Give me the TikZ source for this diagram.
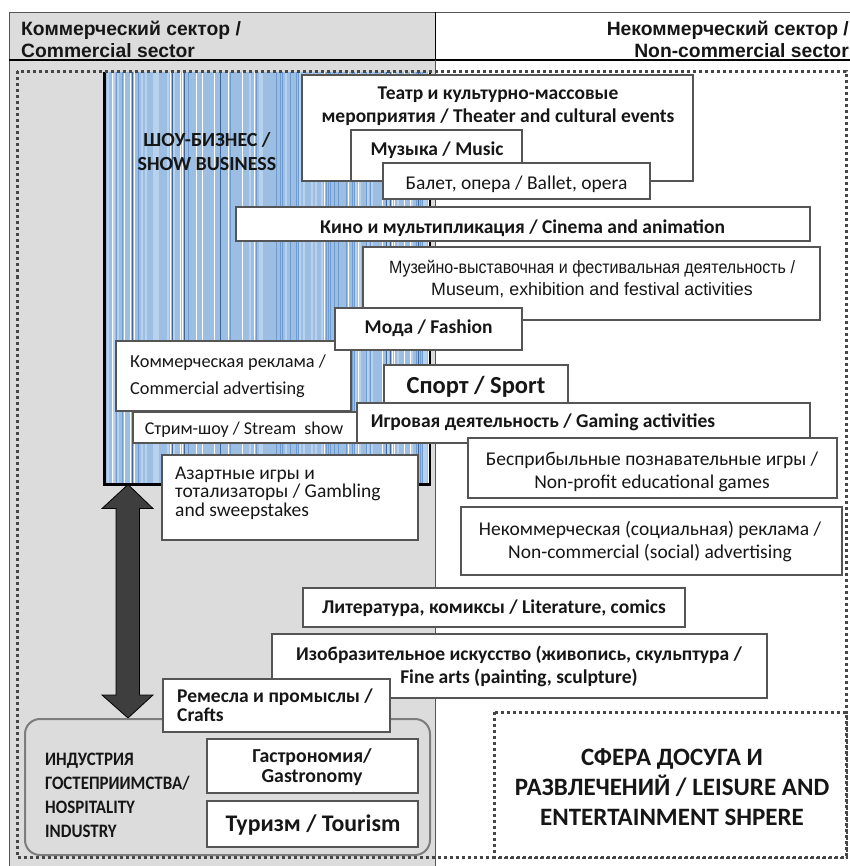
\documentclass[tikz,border=0pt]{standalone}
\usepackage{fontspec}
\usepackage{graphicx}
\setmainfont{Carlito}
\newfontfamily\arialf{Liberation Sans}
\definecolor{colgrey}{RGB}{220,220,220}
\definecolor{blueb}{RGB}{156,190,227}
\definecolor{bluel}{RGB}{184,210,238}
\definecolor{bluem}{RGB}{110,156,208}
\definecolor{blued}{RGB}{62,102,152}
\definecolor{boxc}{RGB}{85,85,85}
\definecolor{dotc}{RGB}{70,70,70}
\definecolor{txtc}{RGB}{22,22,22}
\definecolor{arrc}{RGB}{62,62,62}
\definecolor{hospc}{RGB}{125,125,125}
\newcommand\nar[1]{\scalebox{0.89}[1]{#1}}
\tikzset{
  bx/.style={draw=boxc, line width=1.3pt, fill=white},
  tb/.style={inner sep=0, align=center, text=txtc, font=\bfseries\fontsize{19.5}{23}\selectfont},
  tr/.style={inner sep=0, align=center, text=txtc, font=\fontsize{19.5}{23}\selectfont},
  dotline/.style={draw=dotc, line width=3pt, dash pattern=on 3pt off 3pt},
}
\begin{document}
\begin{tikzpicture}[x=1pt,y=-1pt]
\useasboundingbox (0,0) rectangle (849,866);
\fill[white] (0,0) rectangle (849,866);
% commercial column
\fill[colgrey] (9,12.5) rectangle (435,866);
\draw[boxc, line width=1pt] (9,866) -- (9,12.5) -- (860,12.5);
\draw[black, line width=1.2pt] (9,60) -- (860,60);
\draw[black, line width=1pt] (435,12.5) -- (435,60);
\draw[boxc, line width=1pt] (435,60) -- (435,866);
% header texts
\node[inner sep=0, anchor=west, align=left, text=txtc, font=\arialf\bfseries\fontsize{19.3}{22}\selectfont] (hcom) at (21,39) {Коммерческий сектор /\\Commercial sector};
\node[inner sep=0, anchor=east, align=right, text=txtc, font=\arialf\bfseries\fontsize{19.3}{22}\selectfont] (hnon) at (849,39) {Некоммерческий сектор /\\Non-commercial sector};
% show business area
\fill[blueb] (104,72) rectangle (430,483);
\pgfmathsetseed{11}
\foreach \i in {0,...,161}{
  \pgfmathsetmacro{\xx}{106+2*\i}
  \pgfmathrandominteger{\rr}{0}{19}
  \ifnum\rr<2 \draw[white, line width=0.7pt] (\xx,72) -- (\xx,483);\fi
  \ifnum\rr>1 \ifnum\rr<5 \draw[bluel, line width=1.4pt] (\xx,72) -- (\xx,483);\fi\fi
  \ifnum\rr>4 \ifnum\rr<8 \draw[bluem, line width=1pt] (\xx,72) -- (\xx,483);\fi\fi
  \ifnum\rr=8 \draw[blued, line width=0.8pt] (\xx,72) -- (\xx,483);\fi
}
\draw[black, line width=1.3pt] (430,72) -- (430,484);
\draw[black, line width=3pt] (104,72) -- (104,484) -- (431,484);
\node[tb, font=\bfseries\fontsize{20}{24}\selectfont] (show) at (207,152) {ШОУ-БИЗНЕС /\\SHOW BUSINESS};
% dotted frame
\draw[dotline] (17,71.5) rectangle (846,857);
% boxes
\draw[bx] (302,75) rectangle (693,181);
\node[tb] (theater) at (498,106.5) {Театр и культурно-массовые\\мероприятия / Theater and cultural events};
\draw[bx] (351,130) rectangle (522,181);
\node[tb] (music) at (437,150) {Музыка / Music};
\draw[bx] (383,163) rectangle (650,199);
\node[tr] (ballet) at (516.5,184) {Балет, опера / Ballet, opera};
\draw[bx] (236,207) rectangle (810,241);
\node[tb] (cinema) at (522.5,228) {Кино и мультипликация / Cinema and animation};
\draw[bx] (363,247) rectangle (820,320);
\node[inner sep=0, align=center, text=txtc, font=\arialf\fontsize{17.8}{22}\selectfont] (museum) at (592,279) {\scalebox{0.9}[1]{Музейно-выставочная и фестивальная деятельность /}\\Museum, exhibition and festival activities};
\draw[bx] (116,341) rectangle (351,411);
\node[tr, anchor=west, align=left, font=\fontsize{18.3}{26.5}\selectfont] (comad) at (130,376) {Коммерческая реклама /\\Commercial advertising};
\draw[bx] (335,308) rectangle (522,350);
\node[tb] (fashion) at (428.6,328.5) {Мода / Fashion};
\draw[bx] (384,365) rectangle (568,405);
\node[tb, font=\bfseries\fontsize{24.5}{26}\selectfont] (sport) at (476,387) {Спорт / Sport};
\draw[bx] (133,412) rectangle (357,443);
\node[tr, font=\fontsize{18}{23}\selectfont] (stream) at (244,430) {Стрим-шоу / Stream\ \ show};
\draw[bx] (357,403) rectangle (810,443);
\node[tb] (gaming) at (543,422.5) {Игровая деятельность / Gaming activities};
\draw[bx] (468,438) rectangle (837,498);
\node[tr] (nonprofit) at (652,471.7) {Бесприбыльные познавательные игры /\\Non-profit educational games};
\draw[bx] (162,455) rectangle (418,540);
\node[tr, anchor=west, align=left, font=\fontsize{19.5}{18.5}\selectfont] (gamb) at (175,493) {Азартные игры и\\тотализаторы / Gambling\\and sweepstakes};
\draw[bx] (461,507) rectangle (842,575);
\node[tr] (noncom) at (650,541.7) {Некоммерческая (социальная) реклама /\\Non-commercial (social) advertising};
\draw[bx] (303,588) rectangle (685,627);
\node[tb] (lit) at (494,608) {Литература, комиксы / Literature, comics};
\draw[bx] (272,634) rectangle (767,698);
\node[tb] (fine) at (519,666.5) {Изобразительное искусство (живопись, скульптура /\\Fine arts (painting, sculpture)};
% double arrow
\coordinate (atop) at (128,484.5);
\coordinate (abot) at (128,718);
\fill[arrc, draw=black, line width=0.8pt]
  (atop) -- ++(25,24) -- ++(-13.5,0) |- ([xshift=25pt,yshift=23pt]abot) -- (abot)
  -- ++(-26,-23) -- ++(14,0) |- ([xshift=-26pt,yshift=-24pt]atop) -- cycle;
% hospitality
\draw[hospc, line width=2pt, rounded corners=15pt] (25,719) rectangle (430,855);
\draw[bx] (163,679) rectangle (390,732);
\node[tb, anchor=west, align=left, font=\bfseries\fontsize{19.5}{19}\selectfont] (crafts) at (177,705) {Ремесла и промыслы /\\Crafts};
\draw[bx] (207,739) rectangle (418,793);
\node[tb, font=\bfseries\fontsize{19.8}{20}\selectfont] (gastro) at (312,766.7) {Гастрономия/\\Gastronomy};
\draw[bx] (207,801) rectangle (418,847);
\node[tb, font=\bfseries\fontsize{23.8}{26}\selectfont] (tour) at (313,825) {Туризм / Tourism};
\node[tb, anchor=west, align=left, font=\bfseries\fontsize{19}{24}\selectfont] (hosp) at (45,795) {\nar{ИНДУСТРИЯ}\\\nar{ГОСТЕПРИИМСТВА/}\\\nar{HOSPITALITY}\\\nar{INDUSTRY}};
% leisure
\fill[white] (494,712) rectangle (846,857);
\draw[dotline] (494,712) rectangle (846,857);
\node[tb, font=\bfseries\fontsize{25}{30}\selectfont] (leisure) at (672,786.7) {СФЕРА ДОСУГА И\\РАЗВЛЕЧЕНИЙ / LEISURE AND\\ENTERTAINMENT SHPERE};
\end{tikzpicture}
\end{document}
